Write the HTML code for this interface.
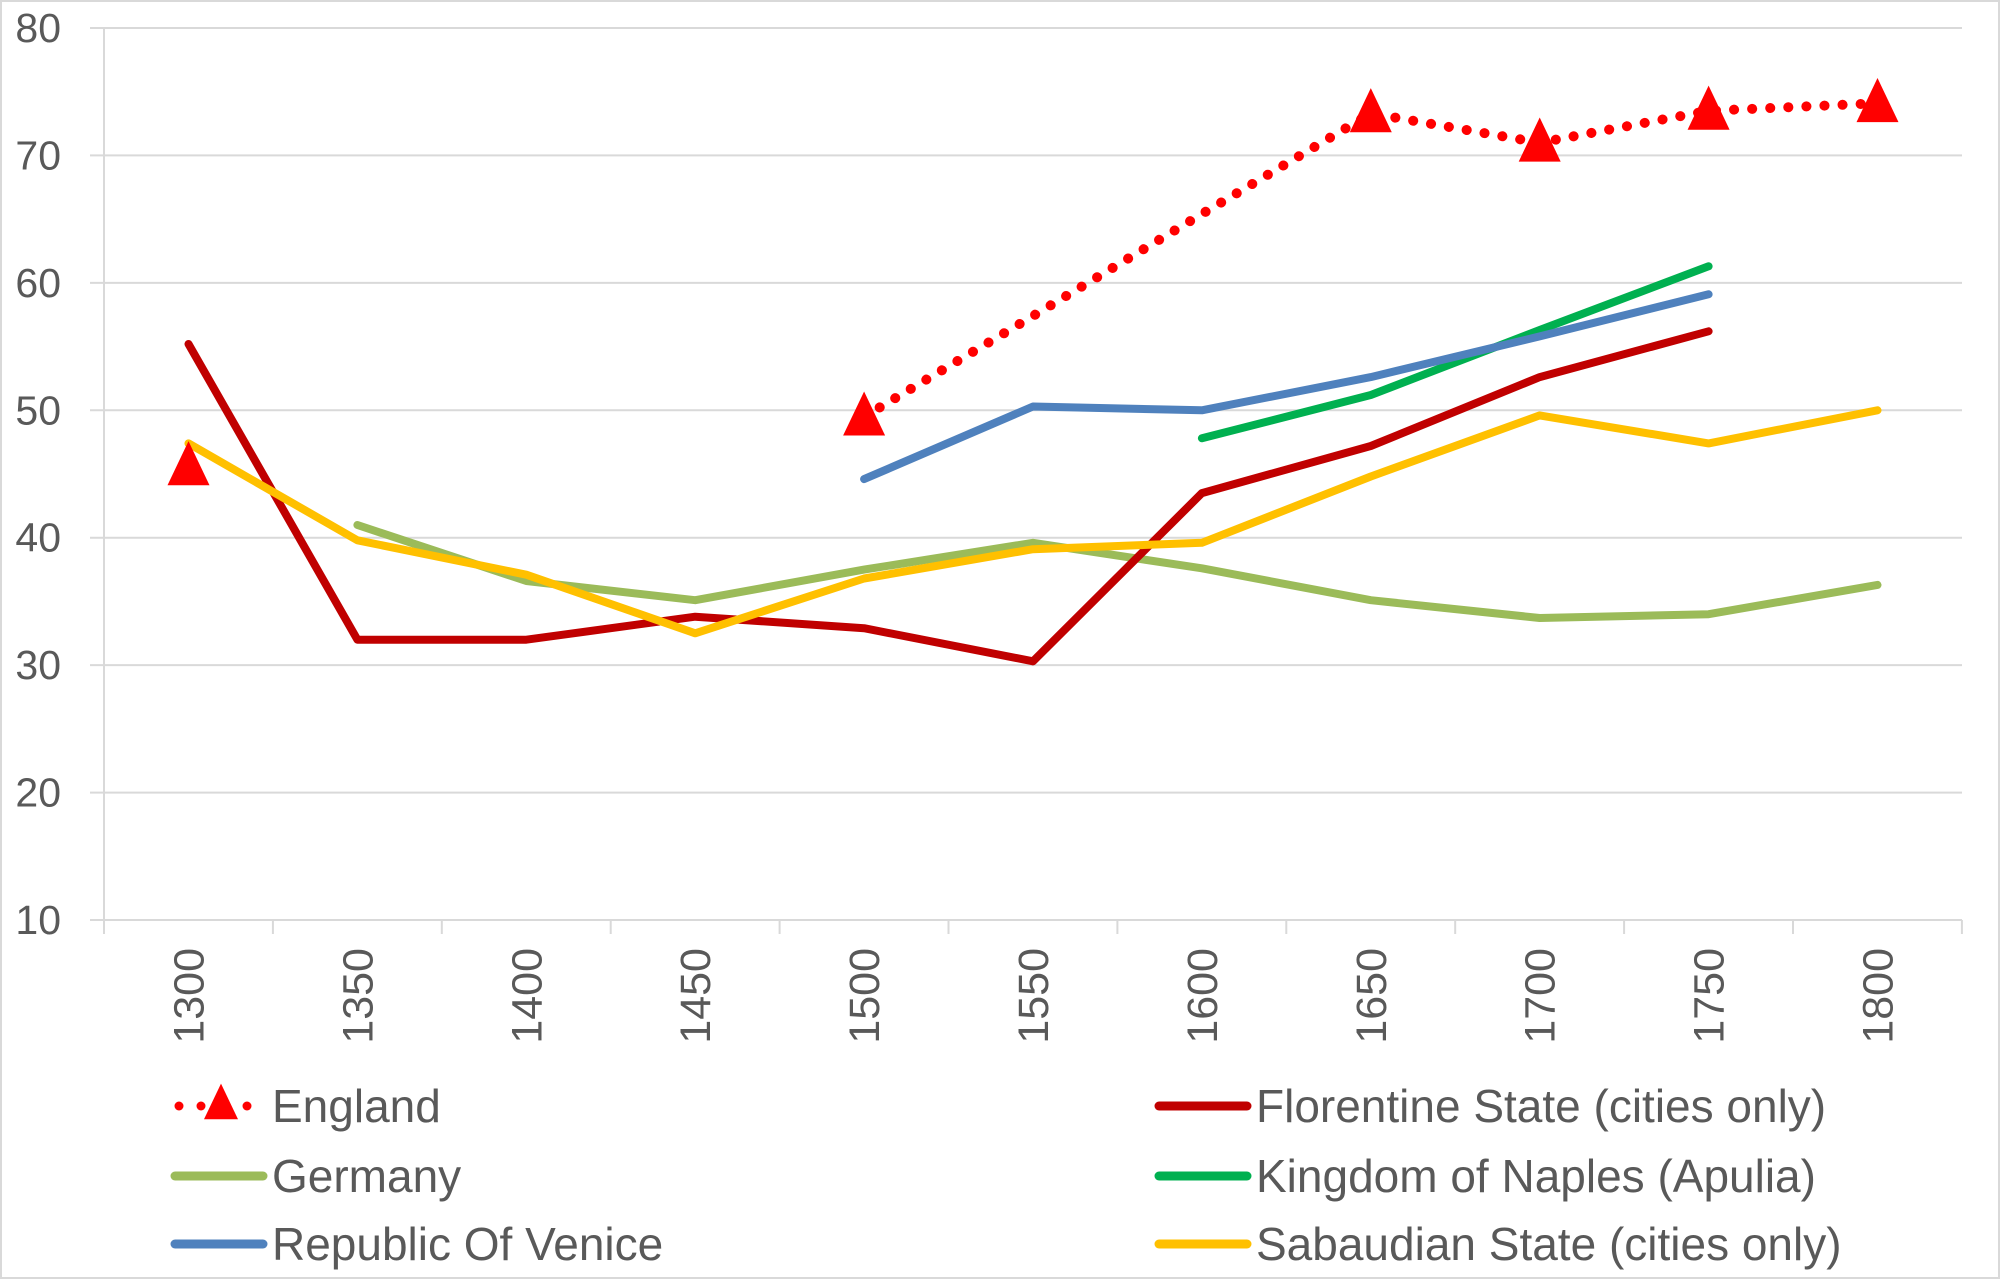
<!DOCTYPE html>
<html><head><meta charset="utf-8"><style>
html,body{margin:0;padding:0;background:#fff}
svg text{font-family:"Liberation Sans",sans-serif;fill:#595959}
</style></head><body>
<svg width="2000" height="1280" viewBox="0 0 2000 1280" xmlns="http://www.w3.org/2000/svg">
<rect x="1" y="1" width="1998" height="1277" fill="#fff" stroke="#d9d9d9" stroke-width="2"/>
<g id="chart"></g>
</svg>
<script>
const g=document.getElementById('chart');
const NS='http://www.w3.org/2000/svg';
function el(t,a,txt){const e=document.createElementNS(NS,t);for(const k in a)e.setAttribute(k,a[k]);if(txt!=null)e.textContent=txt;g.appendChild(e);return e;}
const X=i=>188.5+168.9*i, Y=v=>920-(v-10)*12.743;
for(let v=10;v<=80;v+=10){el('line',{x1:90,x2:1962,y1:Y(v),y2:Y(v),stroke:'#d9d9d9','stroke-width':2});
el('text',{x:61,y:Y(v)+14,'text-anchor':'end','font-size':41},v);}
el('line',{x1:104,x2:104,y1:28,y2:932,stroke:'#d9d9d9','stroke-width':2});
for(let i=0;i<=11;i++)el('line',{x1:104+168.9*i,x2:104+168.9*i,y1:920,y2:934,stroke:'#d9d9d9','stroke-width':2});
for(let i=0;i<11;i++){const x=X(i)+15,y=948;el('text',{x:x,y:y,'text-anchor':'end','font-size':43,transform:`rotate(-90 ${x} ${y})`},1300+50*i);}
function line(d,c,w,extra){const pts=d.map(p=>X(p[0]).toFixed(1)+','+Y(p[1]).toFixed(1)).join(' ');const a={points:pts,fill:'none',stroke:c,'stroke-width':w,'stroke-linejoin':'round','stroke-linecap':'round'};Object.assign(a,extra||{});el('polyline',a);}
line([[1,41],[2,36.6],[3,35.1],[4,37.5],[5,39.6],[6,37.6],[7,35.1],[8,33.7],[9,34],[10,36.3]],'#9BBB59',8);
line([[0,55.2],[1,32],[2,32],[3,33.8],[4,32.9],[5,30.3],[6,43.5],[7,47.2],[8,52.6],[9,56.2]],'#C00000',8);
line([[6,47.8],[7,51.2],[8,56.3],[9,61.3]],'#00B050',8);
line([[4,44.6],[5,50.3],[6,50],[7,52.6],[8,55.8],[9,59.1]],'#4F81BD',8);
line([[0,47.4],[1,39.8],[2,37.1],[3,32.5],[4,36.8],[5,39.1],[6,39.6],[7,44.8],[8,49.6],[9,47.4],[10,50]],'#FFC000',8);
line([[4,49.5],[5,57.4],[6,65.4],[7,73.3],[8,71],[9,73.5],[10,74.1]],'#FF0000',10,{'stroke-dasharray':'0.1 18'});
function tri(x,y,s){el('polygon',{points:`${x},${y-s*0.6} ${x-s/2},${y+s*0.45} ${x+s/2},${y+s*0.45}`,fill:'#FF0000'});}
[[0,45.6],[4,49.5],[7,73.3],[8,71],[9,73.5],[10,74.1]].forEach(p=>tri(X(p[0]),Y(p[1]),42));
const L=[[175,1106,'England',null],[175,1176,'Germany','#9BBB59'],[175,1244,'Republic Of Venice','#4F81BD'],
[1159,1106,'Florentine State (cities only)','#C00000'],[1159,1176,'Kingdom of Naples (Apulia)','#00B050'],[1159,1244,'Sabaudian State (cities only)','#FFC000']];
L.forEach(([x,y,t,c])=>{
 if(c)el('line',{x1:x,x2:x+88,y1:y,y2:y,stroke:c,'stroke-width':9,'stroke-linecap':'round'});
 else{[x+4,x+26,x+72].forEach(cx=>el('circle',{cx:cx,cy:y,r:4.5,fill:'#FF0000'}));tri(x+46,y-2,34);}
 el('text',{x:x+97,y:y+16,'font-size':46},t);
});
</script>
</body></html>
